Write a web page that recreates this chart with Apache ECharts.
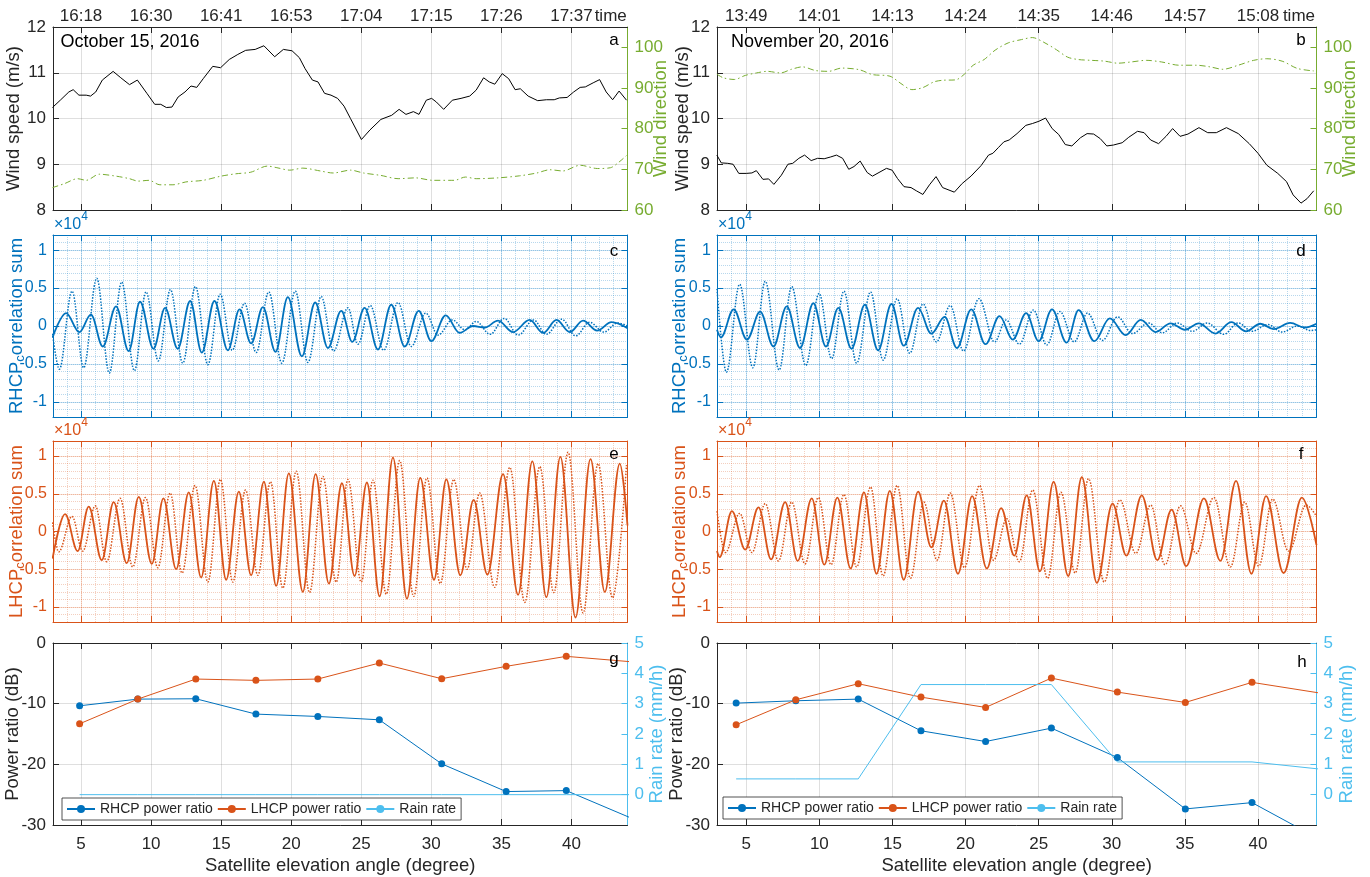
<!DOCTYPE html>
<html><head><meta charset="utf-8">
<script src="https://cdn.jsdelivr.net/npm/echarts@6/dist/echarts.min.js"></script>
<style>html,body{margin:0;padding:0;background:#fff}#c{width:1370px;height:877px}</style>
</head><body><div id="c"></div>
<script>
// ---------------- data ----------------
const majorX = [5, 10, 15, 20, 25, 30, 35, 40];
const timeTickOct = ['16:18','16:30','16:41','16:53','17:04','17:15','17:26','17:37'];
const timeTickNov = ['13:49','14:01','14:13','14:24','14:35','14:46','14:57','15:08'];
const timeWordAt = 42.8;
const corrTicks = [-1, -0.5, 0, 0.5, 1];
const dirTicks = [60, 70, 80, 90, 100];
const rainTicks = [0, 1, 2, 3, 4, 5];
const legendNames = ['RHCP power ratio', 'LHCP power ratio', 'Rain rate'];

const windSpeedOct = [[2.96,10.24],[3.52,10.40],[4.13,10.58],[4.44,10.63],[4.85,10.51],[5.37,10.51],[5.68,10.49],[6.05,10.58],[6.52,10.84],[7.29,11.03],[7.84,10.89],[8.46,10.74],[9.02,10.84],[9.70,10.55],[10.26,10.31],[10.69,10.31],[11.09,10.24],[11.49,10.25],[11.93,10.47],[12.42,10.58],[12.85,10.71],[13.26,10.68],[13.72,10.87],[14.40,11.14],[14.96,11.11],[15.58,11.29],[16.19,11.40],[16.75,11.49],[17.43,11.51],[18.05,11.59],[18.82,11.35],[19.44,11.51],[20.06,11.48],[20.58,11.33],[20.99,11.09],[21.51,10.84],[21.91,10.80],[22.38,10.55],[22.84,10.51],[23.31,10.44],[23.77,10.27],[24.23,10.00],[25.01,9.54],[25.62,9.75],[26.40,9.98],[27.17,10.07],[27.70,10.20],[28.19,10.09],[28.72,10.15],[29.12,10.09],[29.64,10.40],[30.02,10.44],[30.36,10.36],[30.88,10.20],[31.50,10.40],[32.12,10.44],[32.74,10.49],[33.20,10.62],[33.73,10.89],[34.13,10.80],[34.53,10.75],[35.06,10.98],[35.52,10.87],[35.98,10.63],[36.35,10.65],[36.91,10.49],[37.59,10.39],[38.21,10.41],[38.77,10.41],[39.14,10.45],[39.69,10.46],[40.16,10.58],[40.62,10.68],[40.99,10.69],[41.55,10.78],[42.01,10.85],[42.48,10.58],[42.94,10.41],[43.40,10.60],[43.93,10.40]];
const windDirOct = [[2.96,65.5],[3.83,66.5],[4.75,67.7],[5.37,67.3],[6.30,68.8],[7.54,68.3],[8.46,67.7],[9.08,67.1],[9.85,67.3],[10.63,66.2],[11.56,66.2],[12.48,66.9],[13.72,67.3],[14.96,68.3],[16.04,68.9],[17.12,69.3],[18.30,70.8],[18.98,70.4],[19.90,69.8],[20.83,70.3],[22.07,69.6],[22.99,69.1],[24.23,69.8],[25.16,69.1],[26.40,68.5],[27.63,67.7],[28.87,67.9],[30.11,67.3],[31.65,67.3],[32.43,68.1],[33.20,67.7],[34.75,67.9],[36.29,68.4],[37.53,69.1],[38.46,69.9],[39.38,69.6],[40.62,71.0],[41.86,70.2],[42.79,70.4],[43.40,71.8],[43.93,73.4]];
const windSpeedNov = [[2.99,9.20],[3.29,9.03],[3.74,9.02],[4.10,9.00],[4.49,8.80],[5.00,8.80],[5.39,8.81],[5.69,8.86],[6.14,8.67],[6.53,8.68],[6.89,8.56],[7.40,8.76],[7.85,9.00],[8.18,9.02],[8.60,9.13],[8.99,9.20],[9.44,9.08],[9.88,9.13],[10.33,9.12],[10.78,9.16],[11.17,9.20],[11.59,9.13],[12.01,8.89],[12.37,8.95],[12.79,9.07],[13.27,8.82],[13.63,8.74],[14.08,8.82],[14.59,8.91],[14.98,8.87],[15.34,8.69],[15.79,8.51],[16.27,8.49],[16.63,8.42],[17.08,8.34],[17.53,8.55],[17.98,8.73],[18.43,8.49],[19.23,8.39],[19.77,8.58],[20.37,8.74],[21.06,8.97],[21.57,9.20],[21.87,9.24],[22.26,9.37],[22.62,9.49],[22.98,9.53],[23.52,9.67],[24.12,9.85],[24.57,9.89],[25.02,9.94],[25.47,10.01],[25.92,9.78],[26.37,9.65],[26.82,9.43],[27.27,9.40],[27.86,9.58],[28.31,9.67],[28.76,9.66],[29.21,9.56],[29.66,9.40],[30.11,9.42],[30.71,9.47],[31.16,9.59],[31.76,9.72],[32.21,9.69],[32.66,9.53],[33.20,9.45],[33.71,9.61],[34.16,9.78],[34.67,9.61],[35.21,9.66],[35.96,9.80],[36.56,9.69],[37.15,9.69],[37.84,9.80],[38.65,9.67],[39.40,9.45],[40.00,9.24],[40.60,8.98],[41.35,8.80],[41.95,8.62],[42.40,8.33],[42.94,8.15],[43.36,8.25],[43.81,8.42]];
const windDirNov = [[2.99,93.4],[3.44,92.5],[4.19,92.1],[4.94,93.1],[5.69,93.7],[6.44,94.1],[7.34,93.7],[8.09,94.6],[8.84,95.2],[9.73,94.3],[10.63,94.1],[11.53,94.9],[12.73,94.5],[13.63,93.3],[14.83,92.9],[15.58,91.1],[16.33,89.6],[17.08,90.1],[17.83,91.5],[18.43,91.9],[19.32,92.0],[19.92,93.4],[20.52,95.6],[21.27,97.0],[22.02,99.3],[22.92,101.1],[23.82,101.9],[24.57,102.4],[25.32,101.3],[26.22,99.4],[26.97,97.6],[27.71,97.0],[28.61,96.8],[29.51,96.6],[30.41,96.1],[31.31,96.4],[32.36,96.8],[33.41,96.4],[34.61,95.6],[35.81,95.6],[36.71,95.2],[37.60,94.6],[38.65,95.6],[39.70,96.8],[40.60,97.2],[41.65,96.6],[42.70,94.8],[43.81,94.2]];

// correlation sums (x10^4), turning points
const rhcpOctSolid = [[2.97,-0.15],[3.93,0.17],[4.88,-0.08],[5.71,0.15],[6.55,-0.27],[7.50,0.26],[8.40,-0.33],[9.21,0.32],[10.17,-0.30],[11.00,0.24],[11.90,-0.30],[12.79,0.33],[13.62,-0.35],[14.52,0.33],[15.48,-0.32],[16.31,0.22],[17.14,-0.23],[17.98,0.25],[18.88,-0.34],[19.76,0.38],[20.76,-0.40],[21.71,0.31],[22.62,-0.29],[23.57,0.20],[24.36,-0.21],[25.24,0.24],[26.19,-0.31],[27.14,0.28],[28.10,-0.27],[29.10,0.20],[30.00,-0.20],[31.02,0.14],[32.02,-0.09],[32.98,0.00],[33.81,-0.02],[34.76,0.07],[35.83,-0.08],[37.02,0.08],[37.98,-0.09],[38.93,0.08],[39.88,-0.08],[40.83,0.07],[41.83,-0.06],[42.86,0.05],[44.0,-0.03]];
const rhcpOctDot = [[2.97,-0.10],[3.45,-0.57],[4.36,0.46],[5.19,-0.55],[6.12,0.63],[7.02,-0.62],[7.90,0.58],[8.81,-0.59],[9.64,0.45],[10.52,-0.46],[11.38,0.48],[12.26,-0.49],[13.17,0.52],[14.05,-0.51],[14.93,0.42],[15.79,-0.32],[16.67,0.30],[17.50,-0.35],[18.40,0.45],[19.33,-0.49],[20.29,0.46],[21.19,-0.48],[22.14,0.39],[23.02,-0.33],[24.05,0.24],[24.76,-0.24],[25.64,0.27],[26.60,-0.32],[27.62,0.31],[28.57,-0.27],[29.60,0.17],[30.48,-0.12],[31.50,0.08],[32.40,-0.05],[33.20,0.06],[34.20,-0.11],[35.20,0.10],[36.20,-0.12],[37.30,0.08],[38.20,-0.11],[39.30,0.09],[40.30,-0.13],[41.30,0.05],[42.30,-0.08],[43.30,0.04],[44.0,0.0]];
const rhcpNovSolid = [[3.0,-0.05],[3.27,-0.15],[4.14,0.22],[5.05,-0.18],[5.95,0.19],[6.86,-0.27],[7.77,0.26],[8.68,-0.29],[9.59,0.30],[10.45,-0.27],[11.30,0.24],[12.20,-0.30],[13.11,0.28],[14.02,-0.32],[14.93,0.29],[15.77,-0.26],[16.75,0.24],[17.66,-0.10],[18.57,0.12],[19.41,-0.29],[20.39,0.22],[21.36,-0.24],[22.32,0.13],[23.23,-0.18],[24.14,0.17],[25.0,-0.20],[25.91,0.22],[26.91,-0.22],[27.73,0.21],[28.80,-0.20],[29.86,0.10],[30.95,-0.12],[31.98,0.08],[33.0,-0.08],[34.02,0.035],[35.0,-0.05],[35.95,0.035],[37.09,-0.10],[38.18,0.05],[39.18,-0.07],[40.16,0.03],[41.07,-0.04],[42.2,0.04],[43.2,-0.02],[44.0,0.03]];
const rhcpNovDot = [[3.0,0.49],[3.64,-0.61],[4.55,0.55],[5.45,-0.55],[6.30,0.59],[7.25,-0.58],[8.11,0.52],[9.07,-0.52],[9.98,0.43],[10.84,-0.43],[11.68,0.46],[12.55,-0.49],[13.50,0.45],[14.36,-0.45],[15.32,0.36],[16.18,-0.36],[17.09,0.29],[18.0,-0.21],[18.95,0.27],[19.86,-0.33],[20.91,0.36],[21.98,-0.21],[22.77,0.08],[23.68,-0.24],[24.64,0.21],[25.55,-0.25],[26.45,0.19],[27.43,-0.21],[28.34,0.17],[29.36,-0.19],[30.39,0.12],[31.41,-0.10],[32.50,0.04],[33.45,-0.09],[34.48,0.04],[35.50,-0.07],[36.52,0.04],[37.66,-0.11],[38.64,0.04],[39.59,-0.07],[40.68,0.02],[41.64,-0.08],[42.7,0.0],[43.6,-0.06],[44.0,-0.05]];
const lhcpOctSolid = [[2.97,-0.36],[3.86,0.23],[4.76,-0.26],[5.55,0.33],[6.48,-0.38],[7.33,0.39],[8.26,-0.42],[9.12,0.46],[10.05,-0.43],[10.88,0.44],[11.79,-0.50],[12.69,0.52],[13.57,-0.61],[14.48,0.67],[15.36,-0.64],[16.26,0.53],[17.14,-0.58],[18.05,0.66],[18.93,-0.72],[19.83,0.77],[20.83,-0.80],[21.74,0.76],[22.69,-0.69],[23.62,0.64],[24.52,-0.59],[25.40,0.65],[26.31,-0.86],[27.26,0.98],[28.26,-0.89],[29.21,0.71],[30.19,-0.64],[31.07,0.69],[32.07,-0.58],[33.02,0.42],[34.00,-0.57],[35.12,0.76],[36.19,-0.84],[37.21,0.93],[38.21,-0.87],[39.21,0.99],[40.29,-1.14],[41.36,0.96],[42.38,-0.80],[43.45,0.90],[44.0,0.08]];
const lhcpOctDot = [[2.97,0.12],[3.40,-0.27],[4.36,0.20],[5.12,-0.26],[6.02,0.34],[6.83,-0.40],[7.79,0.44],[8.69,-0.47],[9.60,0.45],[10.48,-0.48],[11.36,0.51],[12.21,-0.55],[13.14,0.61],[14.05,-0.67],[14.95,0.69],[15.83,-0.67],[16.74,0.55],[17.62,-0.58],[18.52,0.66],[19.40,-0.75],[20.36,0.80],[21.31,-0.81],[22.26,0.73],[23.21,-0.67],[24.05,0.69],[25.0,-0.67],[25.83,0.68],[26.79,-0.83],[27.74,0.94],[28.74,-0.86],[29.69,0.71],[30.64,-0.69],[31.60,0.69],[32.55,-0.50],[33.45,0.51],[34.52,-0.74],[35.60,0.85],[36.67,-0.94],[37.74,0.86],[38.74,-0.81],[39.76,1.05],[40.83,-1.08],[41.90,0.90],[42.93,-0.88],[43.93,0.88]];
const lhcpNovSolid = [[3.0,-0.26],[3.18,-0.34],[4.02,0.27],[4.93,-0.24],[5.84,0.32],[6.70,-0.37],[7.66,0.39],[8.52,-0.39],[9.48,0.44],[10.34,-0.44],[11.23,0.45],[12.14,-0.49],[13.05,0.52],[13.91,-0.56],[14.82,0.54],[15.77,-0.64],[16.75,0.53],[17.66,-0.21],[18.52,0.41],[19.48,-0.56],[20.45,0.47],[21.45,-0.49],[22.43,0.31],[23.34,-0.32],[24.18,0.48],[25.09,-0.53],[26.02,0.66],[27.02,-0.59],[27.95,0.72],[28.98,-0.68],[30.05,0.37],[31.0,-0.32],[32.05,0.48],[33.11,-0.38],[34.09,0.29],[35.09,-0.46],[36.30,0.44],[37.43,-0.39],[38.50,0.67],[39.55,-0.56],[40.55,0.47],[41.75,-0.55],[43.0,0.45],[44.0,-0.18]];
const lhcpNovDot = [[3.0,0.27],[3.57,-0.28],[4.55,0.24],[5.39,-0.28],[6.30,0.37],[7.20,-0.39],[8.11,0.39],[9.02,-0.43],[9.93,0.45],[10.80,-0.44],[11.68,0.49],[12.55,-0.47],[13.50,0.59],[14.36,-0.59],[15.32,0.61],[16.23,-0.62],[17.14,0.39],[18.05,-0.38],[18.95,0.51],[19.93,-0.48],[20.95,0.61],[21.91,-0.38],[22.82,0.17],[23.68,-0.40],[24.59,0.55],[25.61,-0.62],[26.52,0.52],[27.50,-0.55],[28.41,0.70],[29.48,-0.67],[30.55,0.42],[31.64,-0.29],[32.66,0.35],[33.64,-0.44],[34.70,0.34],[35.77,-0.29],[36.98,0.45],[38.11,-0.47],[39.09,0.39],[40.05,-0.46],[41.0,0.43],[42.09,-0.26],[43.3,0.35],[44.0,0.2]];

const rhcpPowOct = [[4.9,-10.35],[9.05,-9.25],[13.19,-9.19],[17.48,-11.72],[21.9,-12.11],[26.29,-12.66],[30.74,-19.92],[35.34,-24.49],[39.63,-24.33],[44.3,-28.9]];
const lhcpPowOct = [[4.9,-13.32],[9.05,-9.25],[13.19,-5.94],[17.48,-6.16],[21.9,-5.94],[26.29,-3.30],[30.74,-5.89],[35.34,-3.85],[39.63,-2.20],[44.3,-3.10]];
const rainOct = [[4.9,0],[9.05,0],[13.19,0],[17.48,0],[21.9,0],[26.29,0],[30.74,0],[35.34,0],[39.63,0],[44.3,0]];
const rhcpPowNov = [[4.31,-9.91],[8.39,-9.52],[12.66,-9.25],[16.95,-14.47],[21.37,-16.24],[25.87,-14.03],[30.38,-18.88],[35.03,-27.35],[39.59,-26.31],[44.1,-32.2]];
const lhcpPowNov = [[4.31,-13.48],[8.39,-9.36],[12.66,-6.71],[16.95,-8.92],[21.37,-10.62],[25.87,-5.78],[30.38,-8.09],[35.03,-9.80],[39.59,-6.49],[44.1,-8.2]];
const rainNov = [[4.31,0.52],[8.39,0.52],[12.66,0.52],[16.95,3.63],[21.37,3.63],[25.87,3.63],[30.38,1.08],[35.03,1.08],[39.59,1.08],[44.1,0.85]];

// ---------------- styling / layout ----------------
const FONT = '"Liberation Sans", Arial, Helvetica, sans-serif';
const INK = '#262626';
const C_BLUE = '#0072BD', C_ORANGE = '#D95319', C_GREEN = '#77AC30', C_SKY = '#4DBEEE';
const GREY_GRID = 'rgba(38,38,38,0.15)';
const cols = [
  {left:53, width:574.5, gapWind:30, gapCorr:26, gapPow:31, gapR:24, gapRain:20},
  {left:717, width:599.5, gapWind:25, gapCorr:27, gapPow:31, gapR:24, gapRain:21}
];
const rowsPos = [{top:27, height:183}, {top:235, height:182}, {top:441, height:181}, {top:643, height:182}];

const grid = [];
rowsPos.forEach(r => cols.forEach(c => grid.push({left:c.left, top:r.top, width:c.width, height:r.height, containLabel:false, outerBoundsMode:'none'})));

const xAxis = [], yAxis = [], series = [], graphic = [];
function push(list, o) { list.push(o); return list.length - 1; }
function axLine(color) { return {show:true, onZero:false, lineStyle:{color:color, width:1}}; }
function axTick(color, vals) { return {show:true, inside:true, length:6, customValues:vals, lineStyle:{color:color, width:1}}; }
function lbl(color, extra) { return Object.assign({show:true, color:color, fontSize:17, fontFamily:FONT}, extra || {}); }
function nameStyle(color) { return {color:color, fontSize:18.5, fontFamily:FONT}; }
function subNameStyle(color) {
  return {color:color, fontSize:18.5, fontFamily:FONT,
    rich:{n:{color:color, fontSize:18.5, fontFamily:FONT, lineHeight:20, verticalAlign:'top'},
          s:{color:color, fontSize:13, fontFamily:FONT, lineHeight:14, verticalAlign:'bottom'}}};
}

function minorAxes(gi, c) {
  push(xAxis, {type:'value', gridIndex:gi, position:'bottom', min:3, max:44, interval:1,
    axisLine:{show:false}, axisTick:{show:false}, axisLabel:{show:false},
    splitLine:{show:true, lineStyle:{color:c, width:1, type:'dotted'}}});
  push(yAxis, {type:'value', gridIndex:gi, position:'left', min:-1.2, max:1.2, interval:0.1,
    axisLine:{show:false}, axisTick:{show:false}, axisLabel:{show:false},
    splitLine:{show:true, lineStyle:{color:c, width:1, type:'dotted'}}});
}
function xFrame(gi, color, gridColor, bottomLabel, bottomName, topLabel) {
  const xb = push(xAxis, {type:'value', gridIndex:gi, position:'bottom', min:3, max:44,
    axisLine:axLine(color), axisTick:axTick(color, majorX),
    axisLabel:bottomLabel || {show:false},
    splitLine:{show:true, lineStyle:{color:gridColor, width:1}},
    name:bottomName || '', nameLocation:'middle', nameGap:31, nameMoveOverlap:false, nameTextStyle:nameStyle(INK)});
  push(xAxis, {type:'value', gridIndex:gi, position:'top', min:3, max:44,
    axisLine:axLine(color), axisTick:axTick(color, majorX),
    axisLabel:topLabel || {show:false}, splitLine:{show:false}});
  return xb;
}

function windPanel(col, speed, dir, times) {
  const gi = col;
  const xb = xFrame(gi, INK, GREY_GRID, null, null,
    lbl(INK, {customValues:majorX.concat([timeWordAt]), margin:2,
      formatter: v => { const i = majorX.indexOf(v); return i < 0 ? 'time' : times[i]; }}));
  const yl = push(yAxis, {type:'value', gridIndex:gi, position:'left', min:8, max:12, interval:1,
    axisLine:axLine(INK), axisTick:{show:true, inside:true, length:6, lineStyle:{color:INK}},
    axisLabel:lbl(INK, {margin:7}), splitLine:{show:true, lineStyle:{color:GREY_GRID}},
    name:'Wind speed (m/s)', nameLocation:'middle', nameGap:cols[col].gapWind, nameMoveOverlap:false, nameTextStyle:nameStyle(INK)});
  const yr = push(yAxis, {type:'value', gridIndex:gi, position:'right', min:60, max:105,
    axisLine:axLine(C_GREEN), axisTick:axTick(C_GREEN, dirTicks),
    axisLabel:lbl(C_GREEN, {customValues:dirTicks, margin:7}), splitLine:{show:false},
    name:'Wind direction', nameLocation:'middle', nameGap:cols[col].gapR, nameMoveOverlap:false, nameTextStyle:nameStyle(C_GREEN)});
  series.push({type:'line', name:'Wind speed', xAxisIndex:xb, yAxisIndex:yl, data:speed, symbol:'none',
    lineStyle:{color:'#000', width:1}, itemStyle:{color:'#000'}, silent:true});
  series.push({type:'line', name:'Wind direction', xAxisIndex:xb, yAxisIndex:yr, data:dir, symbol:'none', smooth:0.3,
    lineStyle:{color:C_GREEN, width:1, type:[6,3,1.5,3]}, itemStyle:{color:C_GREEN}, silent:true});
}

function wavePanel(row, col, color, rgb, solid, dotted, pol) {
  const gi = row * 2 + col;
  minorAxes(gi, 'rgba(' + rgb + ',0.28)');
  const xb = xFrame(gi, color, 'rgba(' + rgb + ',0.2)');
  const yl = push(yAxis, {type:'value', gridIndex:gi, position:'left', min:-1.2, max:1.2,
    axisLine:axLine(color), axisTick:axTick(color, corrTicks),
    axisLabel:lbl(color, {customValues:corrTicks, margin:6, fontSize:16}),
    splitLine:{show:true, lineStyle:{color:'rgba(' + rgb + ',0.2)', width:1}},
    name:'{n|' + pol + '}{s|c}{n|orrelation sum}', nameLocation:'middle', nameGap:cols[col].gapCorr,
    nameMoveOverlap:false, nameTextStyle:subNameStyle(color)});
  push(yAxis, {type:'value', gridIndex:gi, position:'right', min:-1.2, max:1.2,
    axisLine:axLine(color), axisTick:axTick(color, corrTicks), axisLabel:{show:false}, splitLine:{show:false}});
  series.push({type:'line', xAxisIndex:xb, yAxisIndex:yl, data:solid, symbol:'none', smooth:0.36, smoothMonotone:'x',
    lineStyle:{color:color, width:1.8}, itemStyle:{color:color}, silent:true});
  series.push({type:'line', xAxisIndex:xb, yAxisIndex:yl, data:dotted, symbol:'none', smooth:0.36, smoothMonotone:'x',
    lineStyle:{color:color, width:1.5, type:'dotted'}, itemStyle:{color:color}, silent:true});
}

function powerPanel(col, rhcp, lhcp, rain) {
  const gi = 6 + col;
  const xb = xFrame(gi, INK, GREY_GRID, lbl(INK, {customValues:majorX, margin:11}), 'Satellite elevation angle (degree)');
  const yl = push(yAxis, {type:'value', gridIndex:gi, position:'left', min:-30, max:0, interval:10,
    axisLine:axLine(INK), axisTick:{show:true, inside:true, length:6, lineStyle:{color:INK}},
    axisLabel:lbl(INK, {margin:7}), splitLine:{show:true, lineStyle:{color:GREY_GRID}},
    name:'Power ratio (dB)', nameLocation:'middle', nameGap:cols[col].gapPow, nameMoveOverlap:false, nameTextStyle:nameStyle(INK)});
  const yr = push(yAxis, {type:'value', gridIndex:gi, position:'right', min:-1, max:5,
    axisLine:axLine(C_SKY), axisTick:axTick(C_SKY, rainTicks),
    axisLabel:lbl(C_SKY, {customValues:rainTicks, margin:7}), splitLine:{show:false},
    name:'Rain rate (mm/h)', nameLocation:'middle', nameGap:cols[col].gapRain, nameMoveOverlap:false, nameTextStyle:nameStyle(C_SKY)});
  series.push({type:'line', name:legendNames[0], xAxisIndex:xb, yAxisIndex:yl, data:rhcp, symbol:'circle', symbolSize:7,
    lineStyle:{color:C_BLUE, width:1}, itemStyle:{color:C_BLUE}, silent:true});
  series.push({type:'line', name:legendNames[1], xAxisIndex:xb, yAxisIndex:yl, data:lhcp, symbol:'circle', symbolSize:7,
    lineStyle:{color:C_ORANGE, width:1}, itemStyle:{color:C_ORANGE}, silent:true});
  series.push({type:'line', name:legendNames[2], xAxisIndex:xb, yAxisIndex:yr, data:rain, symbol:'none',
    lineStyle:{color:C_SKY, width:1}, itemStyle:{color:C_SKY}, silent:true});
}

windPanel(0, windSpeedOct, windDirOct, timeTickOct);
windPanel(1, windSpeedNov, windDirNov, timeTickNov);
wavePanel(1, 0, C_BLUE, '0,114,189', rhcpOctSolid, rhcpOctDot, 'RHCP');
wavePanel(1, 1, C_BLUE, '0,114,189', rhcpNovSolid, rhcpNovDot, 'RHCP');
wavePanel(2, 0, C_ORANGE, '217,83,25', lhcpOctSolid, lhcpOctDot, 'LHCP');
wavePanel(2, 1, C_ORANGE, '217,83,25', lhcpNovSolid, lhcpNovDot, 'LHCP');
powerPanel(0, rhcpPowOct, lhcpPowOct, rainOct);
powerPanel(1, rhcpPowNov, lhcpPowNov, rainNov);

function txt(x, y, s, size, color, align) {
  graphic.push({type:'text', x:x, y:y, silent:true, z:100,
    style:{text:s, fill:color, font:size + 'px ' + FONT, fontSize:size, fontFamily:FONT, align:align || 'center', verticalAlign:'middle', textAlign:align || 'center', textVerticalAlign:'middle'}});
}
function expo(x, y, color) {
  graphic.push({type:'text', x:x, y:y, silent:true, z:100,
    style:{text:'{m|\u00d710}{s|4}', fill:color, align:'left', verticalAlign:'middle', textAlign:'left', textVerticalAlign:'middle',
      rich:{m:{fontSize:16, fontFamily:FONT, fill:color, lineHeight:22, verticalAlign:'bottom'}, s:{fontSize:12, fontFamily:FONT, fill:color, lineHeight:12, verticalAlign:'top'}}}});
}
txt(60.5, 42, 'October 15, 2016', 18, '#000', 'left');
txt(731, 42, 'November 20, 2016', 18, '#000', 'left');
[['a',614,40],['b',1301,40],['c',614,251],['d',1301,251],['e',614,454],['f',1301,454],['g',614,659],['h',1302,662]]
  .forEach(t => txt(t[1], t[2], t[0], 17, '#000'));
expo(54, 222, C_BLUE); expo(718, 222, C_BLUE);
expo(54, 428, C_ORANGE); expo(718, 428, C_ORANGE);

const legendBase = {data:legendNames, orient:'horizontal', itemWidth:28, itemHeight:10, itemGap:4,
  padding:[4,5,4,4], borderColor:INK, borderWidth:0.8, backgroundColor:'#fff', selectedMode:false,
  textStyle:{fontSize:14, fontFamily:FONT, color:INK}};

const option = {
  animation:false,
  textStyle:{fontFamily:FONT},
  grid:grid, xAxis:xAxis, yAxis:yAxis, series:series, graphic:graphic,
  legend:[Object.assign({left:62, top:798}, legendBase), Object.assign({left:723, top:797}, legendBase)]
};
const chart = echarts.init(document.getElementById('c'), null, {renderer:'canvas'});
chart.setOption(option);
</script></body></html>
